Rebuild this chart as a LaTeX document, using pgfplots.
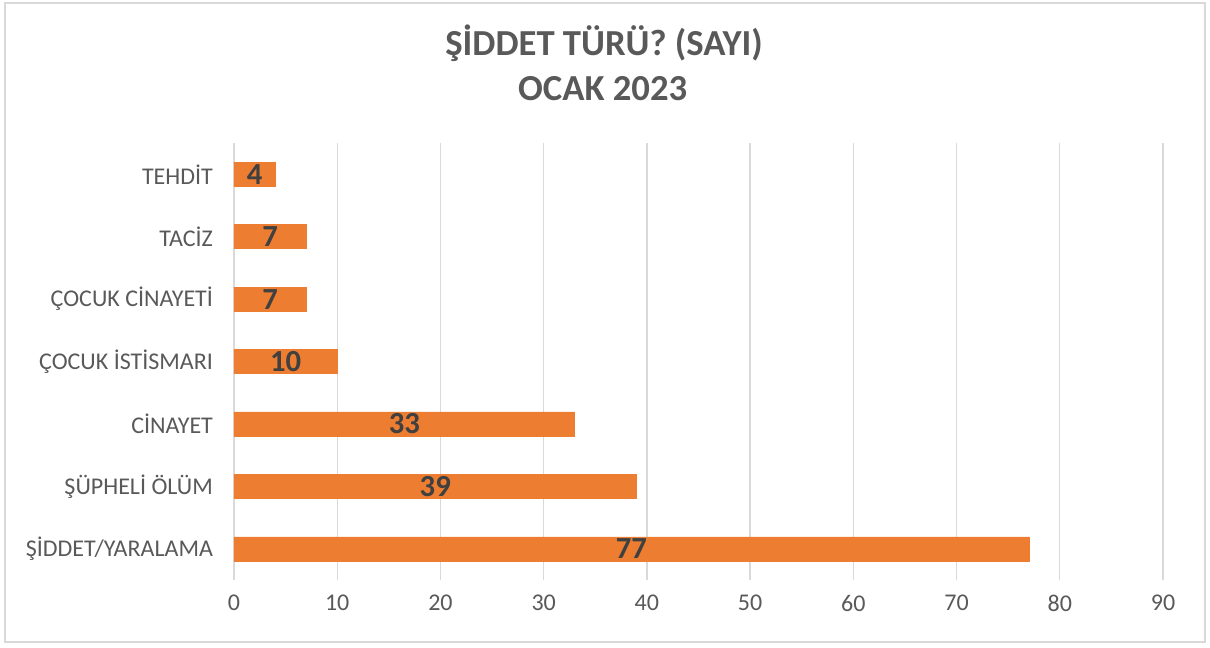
\documentclass[border=0pt]{standalone}
\usepackage{pgfplots}
\pgfplotsset{compat=1.18}
\usepackage{pgfplotstable}
\usepackage{fontspec}
\setmainfont{Carlito}

\definecolor{barorange}{HTML}{ED7D31}
\definecolor{txtgray}{HTML}{595959}
\definecolor{lblgray}{HTML}{404040}
\definecolor{gridgray}{HTML}{D9D9D9}

% bottom to top
\pgfplotstableread{
idx value
0 77
1 39
2 33
3 10
4 7
5 7
6 4
}\siddet

\begin{document}
\begin{tikzpicture}
\useasboundingbox (0,0) rectangle (907.5pt,-486pt);
\draw[draw=gridgray, line width=1pt] (3.75pt,-2.25pt) rectangle (903.75pt,-481.5pt);

\node[anchor=base, text=txtgray, font=\fontsize{27.5}{30}\selectfont\bfseries] at (453pt,-41.5pt) {ŞİDDET TÜRÜ? (SAYI)};
\node[anchor=base, text=txtgray, font=\fontsize{27.5}{30}\selectfont\bfseries] at (452pt,-75.5pt) {OCAK 2023};

\begin{axis}[
  at={(175.5pt,-435pt)}, anchor=south west,
  xbar,
  scale only axis,
  width=696.75pt, height=327.75pt,
  xmin=0, xmax=90,
  ymin=-0.5, ymax=6.5,
  xtick={0,10,...,90},
  ytick={0,...,6},
  yticklabels={ŞİDDET/YARALAMA, ŞÜPHELİ ÖLÜM, CİNAYET, ÇOCUK İSTİSMARI, ÇOCUK CİNAYETİ, TACİZ, TEHDİT},
  axis lines*=left,
  axis line style={draw=none},
  tick style={draw=none},
  xmajorgrids,
  major grid style={draw=gridgray, line width=1pt},
  bar width=18pt,
  /pgf/number format/assume math mode=true,
  tick label style={font=\fontsize{18}{20}\selectfont, text=txtgray},
  xticklabel style={yshift=-8pt},
  yticklabel style={xshift=-8pt},
  nodes near coords,
  every node near coord/.append style={font=\fontsize{23}{25}\selectfont\bfseries, text=lblgray, anchor=center, xshift=-\val*3.8708pt},
  visualization depends on={\thisrow{value} \as \val},
]
\addplot[fill=barorange, draw=barorange] table[x=value, y=idx] {\siddet};
\end{axis}
\end{tikzpicture}
\end{document}
